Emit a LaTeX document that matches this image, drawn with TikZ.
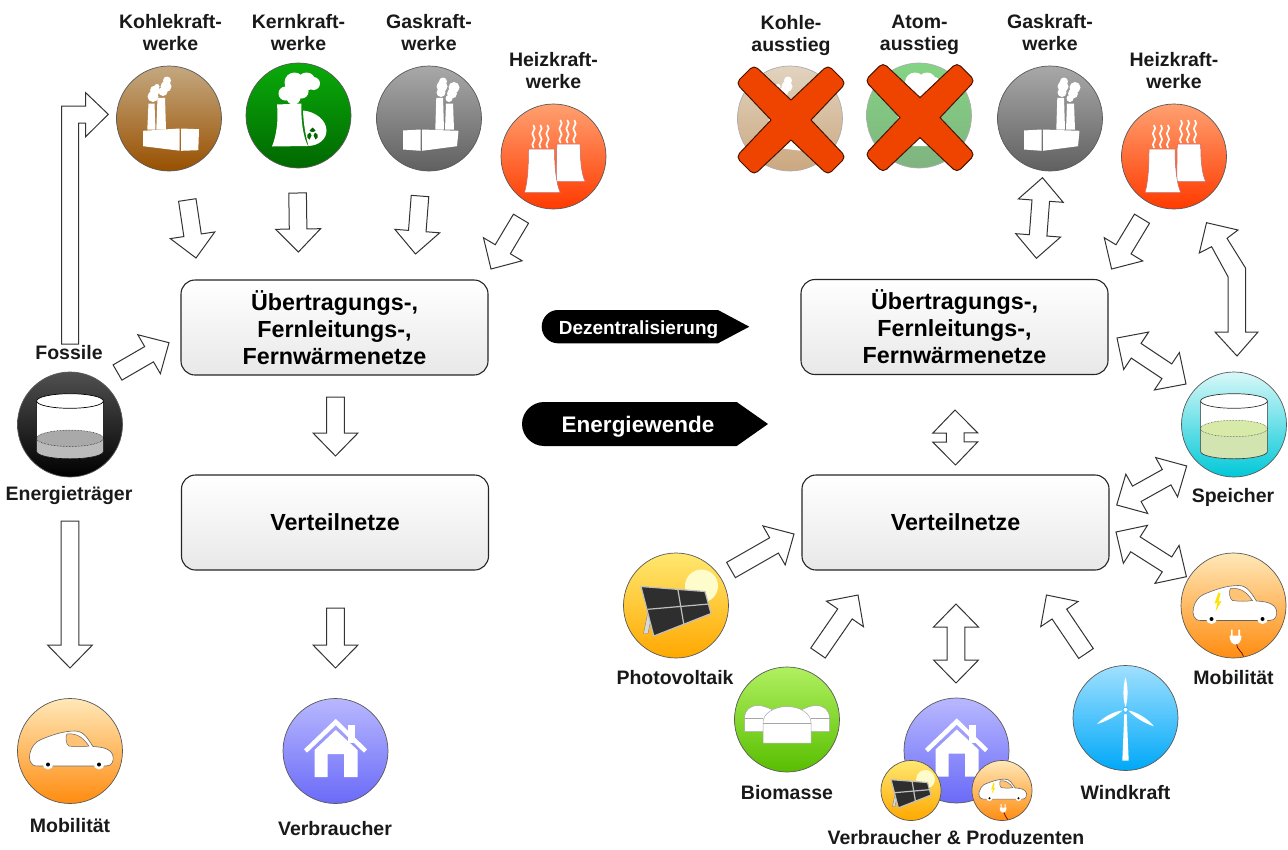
\documentclass[tikz,border=0pt]{standalone}
\usepackage{fontspec}
\setmainfont{Liberation Sans}
\usetikzlibrary{calc}
\newcommand\lblfont{\bfseries\fontsize{19.5}{22}\selectfont}
\newcommand\boxfont{\bfseries\fontsize{23.3}{27}\selectfont}
\definecolor{xred}{HTML}{EE4400}
\definecolor{coalT}{HTML}{C4A880}\definecolor{coalB}{HTML}{985000}
\definecolor{kernT}{HTML}{0AAA0A}\definecolor{kernB}{HTML}{006800}
\definecolor{gasT}{HTML}{A8A8A8}\definecolor{gasB}{HTML}{606060}
\definecolor{heatT}{HTML}{FFA070}\definecolor{heatB}{HTML}{FF3A00}
\definecolor{carT}{HTML}{FFE8B8}\definecolor{carB}{HTML}{FF8C10}
\definecolor{pvT}{HTML}{FFE870}\definecolor{pvB}{HTML}{FFA800}
\definecolor{bioT}{HTML}{B0F060}\definecolor{bioB}{HTML}{58BE00}
\definecolor{houseT}{HTML}{B8B8FF}\definecolor{houseB}{HTML}{6A6AF8}
\definecolor{windT}{HTML}{A0E0FF}\definecolor{windB}{HTML}{00A8F8}
\definecolor{storeT}{HTML}{D8F8F8}\definecolor{storeB}{HTML}{00C8D8}
\definecolor{fossT}{HTML}{505050}\definecolor{fossB}{HTML}{000000}
\definecolor{liq}{HTML}{D2E4B0}\definecolor{liqT}{HTML}{D8EAA8}
\definecolor{oil}{HTML}{BBBBBB}\definecolor{oilT}{HTML}{A9A9A9}
\tikzset{
  lab/.style={font=\lblfont,align=center,inner sep=0pt,text=black!90},
  netbox/.style={draw=black!85,line width=1.1pt,rounded corners=14pt,top color=white,bottom color=black!9,
     minimum width=307pt,minimum height=95pt,inner sep=0pt,font=\boxfont,align=center},
  coin/.style={circle,minimum size=105pt,inner sep=0pt,draw=black!65,line width=.7pt,shading=axis},
  smallcoin/.style={circle,minimum size=60pt,inner sep=0pt,draw=black!65,line width=.7pt,shading=axis},
  blk/.style={draw=black!80,fill=white,line width=1pt,line join=miter},
  cross/.style={fill=xred,draw=black!70!xred,line width=1pt},
  ico/.style={fill=white},
}
\newcommand\oneway[2]{%
  \coordinate (nk) at ($(#2)!23pt!(#1)$);
  \draw[blk] ($(#1)!8.8pt!90:(#2)$) -- ($(nk)!8.8pt!90:(#2)$) -- ($(nk)!22.5pt!90:(#2)$) -- (#2)
     -- ($(nk)!22.5pt!-90:(#2)$) -- ($(nk)!8.8pt!-90:(#2)$) -- ($(#1)!8.8pt!-90:(#2)$) -- cycle;}
\newcommand\twoway[2]{%
  \coordinate (nk) at ($(#2)!23pt!(#1)$);
  \coordinate (nj) at ($(#1)!23pt!(#2)$);
  \draw[blk] (#1) -- ($(nj)!22.5pt!90:(#2)$) -- ($(nj)!8.8pt!90:(#2)$) -- ($(nk)!8.8pt!90:(#2)$) -- ($(nk)!22.5pt!90:(#2)$) -- (#2)
     -- ($(nk)!22.5pt!-90:(#2)$) -- ($(nk)!8.8pt!-90:(#2)$) -- ($(nj)!8.8pt!-90:(#2)$) -- ($(nj)!22.5pt!-90:(#2)$) -- cycle;}
% --- icons, drawn around the local origin, circle radius 52.5, y downwards
\newcommand\icoCoal{%
  \fill[ico] (-21.7,11) -- (-20.5,-15) -- (-14.5,-15) -- (-13.5,11) -- cycle;
  \fill[ico] (-12.7,11) -- (-11.5,-20.7) -- (-4,-20.7) -- (-3,11) -- cycle;
  \fill[ico] (-16,-22) circle (5.5) (-14,-28) circle (5) (-12,-32) circle (2.5);
  \fill[ico] (-6,-27) circle (4.5) (-3,-32) circle (5.5) (-2,-38) circle (4);
  \fill[ico] (-26,12.3) -- (10.5,10) -- (10.5,32.2) -- (-26,27.7) -- cycle;
  \fill[ico] (12,10) -- (30,10.7) -- (29.3,31.7) -- (12,32.3) -- cycle;}
\newcommand\icoGas{%
  \fill[ico] (6.3,11) -- (7.3,-20.7) -- (14,-20.7) -- (15,11) -- cycle;
  \fill[ico] (16,11) -- (17,-15) -- (24,-15) -- (25,11) -- cycle;
  \fill[ico] (12,-26) circle (4.5) (13,-32) circle (5.5) (14,-37) circle (4);
  \fill[ico] (20,-20) circle (3.5) (23,-25) circle (5) (25,-31) circle (5.5);
  \fill[ico] (-26,12) -- (-8.5,11) -- (-8.5,32.3) -- (-26,31) -- cycle;
  \fill[ico] (-7,11) -- (29.5,12.3) -- (28,27.7) -- (-7,32.3) -- cycle;}
\newcommand\icoKern{%
  \fill[ico] (-4,-33) circle (10) (8,-34) circle (9) (15,-32) circle (6.5)
    (-13,-22) circle (7) (-5,-18) circle (7) (3,-24) circle (7);
  \fill[ico] (-21.5,-11) -- (2.8,-12) .. controls (2.5,8) and (5,22) .. (9.5,30.5) -- (-26.5,31) .. controls (-22,20) and (-20,5) .. cycle;
  \fill[ico] (4.5,-5) .. controls (16,-4) and (28,4) .. (28,15) .. controls (28,24) and (20,30) .. (10,30.5) .. controls (7,20) and (5,8) .. cycle;
  \fill[green!40!black] (14,12) -- (11,15) .. controls (12,17) and (16,17) .. (17,15) -- cycle
     (11.5,17) -- (9,19) .. controls (8,21) and (9,23) .. (11,24) -- (13,20) -- cycle
     (16.5,17) -- (19,19) .. controls (20,21) and (19,23) .. (17,24) -- (15,20) -- cycle;}
\newcommand\steam[2]{\draw[white,line width=1.7pt,line cap=round] (#1,#2) .. controls (#1+4,#2+4) and (#1-4,#2+7) .. (#1,#2+11) .. controls (#1+4,#2+15) and (#1-4,#2+18) .. (#1,#2+22);}
\newcommand\icoHeat{%
  \steam{-20}{-31}\steam{-13}{-31}\steam{-6}{-31}
  \steam{7}{-36}\steam{14}{-36}\steam{21}{-36}
  \filldraw[fill=white,draw=red!60!black!60,line width=.5pt] (3.3,-12.3) -- (26.7,-12.3) .. controls (26.7,5) and (28,18) .. (31.7,25) -- (2.7,25) -- cycle;
  \filldraw[fill=white,draw=red!60!black!60,line width=.5pt] (-25,-7.3) -- (1,-7.3) .. controls (1,12) and (3,28) .. (6.7,36) -- (-29,36) .. controls (-26,26) and (-25,12) .. cycle;}
\newcommand\carbody[1]{%
  \filldraw[fill=white,draw=#1,line width=.6pt] (-33,15) .. controls (-40,15) and (-41.5,8) .. (-40,2) .. controls (-38.5,-4) and (-35,-9) .. (-29,-11.5)
     .. controls (-18,-16) and (-7,-20) .. (5,-20) .. controls (14,-20) and (18,-12) .. (23,-4.5) .. controls (31,-4) and (41,-3) .. (43,5)
     .. controls (44,10) and (42,15) .. (36,15) -- cycle;
  \fill[white] (-22,13) circle (5.5) (29,13) circle (5.5);
  \fill[black] (-22,13.5) circle (2) (29,13.5) circle (2);
  \filldraw[fill=carT!60!carB,draw=#1,line width=.5pt] (-3,-17) .. controls (-5,-15) and (-4,-6) .. (-1,-5) .. controls (6,-4) and (13,-4) .. (19,-5)
     .. controls (13,-13) and (8,-18) .. (-3,-17) -- cycle;}
\newcommand\icoCarE{%
  \carbody{black!60}
  \fill[yellow!85!orange] (-15,-13) -- (-19,-2) -- (-16,-3) -- (-18,6) -- (-12,-4.5) -- (-15,-4) -- (-13,-12) -- cycle;
  \draw[black!60!red,line width=.7pt] (3,38) .. controls (3,44) and (9,46) .. (10,51);
  \fill[ico] (-2.5,24) rectangle (-0.8,31) (4.8,24) rectangle (6.5,31);
  \fill[ico] (-4,30) -- (8,30) .. controls (8,36) and (5,39) .. (2,39) .. controls (-1,39) and (-4,36) .. cycle;}
\newcommand\icoPV{%
  \fill[white!80!yellow] (25.5,-19.5) circle (16.5);
  \filldraw[fill=white!85!black,draw=black!50,line width=.4pt] (-28,6) -- (-32.5,28) -- (-28,28) -- (-24,8) -- cycle;
  \filldraw[fill=black!82,draw=white!75!black,line width=1.2pt] (-35,-19) -- (29,-14) -- (35,8) -- (-22.2,30.5) -- cycle;
  \draw[white!75!black,line width=1.2pt] (1.8,-16.5) -- (7.8,19) (-28.5,3.8) -- (33,-1.5);}
\newcommand\icoBio{%
  \filldraw[fill=white,draw=black!35,line width=.5pt] (-42.5,12) -- (-42.5,-3) .. controls (-42,-9) and (-37,-14) .. (-29,-14) .. controls (-24,-14) and (-20,-12) .. (-15,-10) -- (-15,12) -- cycle;
  \filldraw[fill=white,draw=black!35,line width=.5pt] (42.5,12) -- (42.5,-3) .. controls (42,-9) and (37,-14) .. (29,-14) .. controls (24,-14) and (20,-12) .. (15,-10) -- (15,12) -- cycle;
  \filldraw[fill=white,draw=black!35,line width=.5pt] (-24,23.5) -- (-24,3) .. controls (-24,-6) and (-13,-13) .. (0,-13) .. controls (13,-13) and (24,-6) .. (24,3) -- (24,23.5) -- cycle;
  \draw[black!35,line width=.6pt] (-42.5,-1.5) -- (-24,-1.5) (24,-1.5) -- (42.5,-1.5) (-24,3.5) -- (24,3.5);}
\newcommand\icoHouse{%
  \fill[ico] (12,-26) rectangle (19,-8);
  \draw[white,line width=4.5pt,line join=miter] (-30,0) -- (0.3,-29) -- (30,0);
  \fill[ico] (-21,-1) -- (0.3,-21) -- (22,-1) -- (22,26) -- (8.5,26) -- (8.5,3) -- (-8,3) -- (-8,26) -- (-21,26) -- cycle;}
\newcommand\icoWind{%
  \fill[ico] (-1.2,-4) -- (1.2,-4) -- (3.2,42.7) -- (-3.2,42.7) -- cycle;
  \fill[ico] (0,-40.7) .. controls (3,-30) and (2.5,-18) .. (0,-11) .. controls (-2.5,-18) and (-3,-30) .. cycle;
  \fill[ico] (-28.3,6) .. controls (-24,0.5) and (-12,-7) .. (-3,-7.5) .. controls (-7,-3.5) and (-18,3) .. cycle;
  \fill[ico] (28.3,8.3) .. controls (24,2) and (12,-6) .. (3,-7.5) .. controls (7,-2.5) and (18,5) .. cycle;
  \filldraw[fill=white,draw=windB,line width=.4pt] (0,-8.3) circle (2.5);}
\newcommand\drumbottom{(33.4,27) .. controls (33.4,31) and (18.5,34.3) .. (0,34.3) .. controls (-18.5,34.3) and (-33.4,31) .. (-33.4,27)}
\newcommand\icoDrum[4]{% liquid side, liquid top, surface y, edge
  \fill[white] (-33.4,-23.5) -- (33.4,-23.5) -- \drumbottom -- cycle;
  \fill[#1] (-33.4,#3) -- (33.4,#3) -- \drumbottom -- cycle;
  \filldraw[fill=#2,draw=#4,densely dotted,line width=.5pt] (0,#3) ellipse (33.4 and 8.2);
  \filldraw[fill=white,draw=#4,line width=.7pt] (0,-23.5) ellipse (33.4 and 7.3);
  \draw[#4,line width=.6pt] (-33.4,-23.5) -- (-33.4,27) (33.4,-23.5) -- \drumbottom;}
\newcommand\crossmark{%
  \filldraw[cross] (0,-20) [rounded corners=5pt] -- (37,-55) -- (55,-37) [sharp corners] -- (20,0)
    [rounded corners=5pt] -- (55,37) -- (37,55) [sharp corners] -- (0,20)
    [rounded corners=5pt] -- (-37,55) -- (-55,37) [sharp corners] -- (-20,0)
    [rounded corners=5pt] -- (-55,-37) -- (-37,-55) [sharp corners] -- cycle;}
\begin{document}
\begin{tikzpicture}[x=1pt,y=-1pt]
\useasboundingbox (0,0) rectangle (1288,849);
% ---------- coins with their pictures
\node[coin,top color=coalT,bottom color=coalB] (coalL) at (169,118.5) {};
\begin{scope}[shift={(coalL.center)}]\icoCoal\end{scope}
\node[coin,top color=kernT,bottom color=kernB] (kernL) at (298.5,115.5) {};
\begin{scope}[shift={(kernL.center)}]\icoKern\end{scope}
\node[coin,top color=gasT,bottom color=gasB] (gasL) at (429,118.5) {};
\begin{scope}[shift={(gasL.center)}]\icoGas\end{scope}
\node[coin,top color=heatT,bottom color=heatB] (heatL) at (553.5,156.5) {};
\begin{scope}[shift={(heatL.center)}]\icoHeat\end{scope}
\node[coin,top color=fossT,bottom color=fossB] (fossil) at (70,424.5) {};
\begin{scope}[shift={(fossil.center)}]\icoDrum{oil}{oilT}{13.8}{black}\end{scope}
\node[coin,top color=carT,bottom color=carB] (carL) at (70,751) {};
\begin{scope}[shift={(carL.center)}]\carbody{black!60}\end{scope}
\node[coin,top color=houseT,bottom color=houseB] (houseL) at (335.5,751) {};
\begin{scope}[shift={(houseL.center)}]\icoHouse\end{scope}
% right column
\begin{scope}[transparency group,opacity=.5]
\node[coin,top color=coalT,bottom color=coalB] (coalR) at (790,118.5) {};
\begin{scope}[shift={(coalR.center)}]\icoCoal\end{scope}
\end{scope}
\begin{scope}[transparency group,opacity=.5]
\node[coin,top color=kernT,bottom color=kernB] (kernR) at (919,115.5) {};
\begin{scope}[shift={(kernR.center)}]\icoKern\end{scope}
\end{scope}
\begin{scope}[shift={(791,120)}]\crossmark\end{scope}
\begin{scope}[shift={(920,117.6)}]\crossmark\end{scope}
\node[coin,top color=gasT,bottom color=gasB] (gasR) at (1050,118.5) {};
\begin{scope}[shift={(gasR.center)}]\icoGas\end{scope}
\node[coin,top color=heatT,bottom color=heatB] (heatR) at (1174,156.5) {};
\begin{scope}[shift={(heatR.center)}]\icoHeat\end{scope}
\node[coin,top color=storeT,bottom color=storeB] (store) at (1234,424.5) {};
\begin{scope}[shift={(store.center)}]\icoDrum{liq}{liqT}{4}{black!80}\end{scope}
\node[coin,top color=carT,bottom color=carB] (carR) at (1233.5,605.5) {};
\begin{scope}[shift={(carR.center)}]\icoCarE\end{scope}
\node[coin,top color=pvT,bottom color=pvB] (pv) at (676,605.5) {};
\begin{scope}[shift={(pv.center)}]\icoPV\end{scope}
\node[coin,top color=bioT,bottom color=bioB] (bio) at (787,719.5) {};
\begin{scope}[shift={(bio.center)}]\icoBio\end{scope}
\node[coin,top color=windT,bottom color=windB] (wind) at (1125.5,718) {};
\begin{scope}[shift={(wind.center)}]\icoWind\end{scope}
\node[coin,top color=houseT,bottom color=houseB] (houseR) at (956.5,750.5) {};
\begin{scope}[shift={(houseR.center)}]\icoHouse\end{scope}
\node[smallcoin,top color=pvT,bottom color=pvB] (pvS) at (911,790.5) {};
\begin{scope}[shift={(pvS.center)},scale=.57]\icoPV\end{scope}
\node[smallcoin,top color=carT,bottom color=carB] (carS) at (1002,790.5) {};
\begin{scope}[shift={(carS.center)},scale=.57]\icoCarE\end{scope}
% ---------- network boxes
\node[netbox] (netTL) at (334.5,327.5) {\raisebox{2.5pt}{\parbox{300pt}{\centering Übertragungs-,\\Fernleitungs-,\\Fernwärmenetze}}};
\node[netbox] (netBL) at (335,522.5) {\raisebox{1pt}{Verteilnetze}};
\node[netbox] (netTR) at (954.5,327) {\raisebox{2.5pt}{\parbox{300pt}{\centering Übertragungs-,\\Fernleitungs-,\\Fernwärmenetze}}};
\node[netbox] (netBR) at (955.5,522.5) {\raisebox{1pt}{Verteilnetze}};
% ---------- labels
\node[lab] (t1) at (170.5,33) {Kohlekraft-\\werke};
\node[lab] (t2) at (298.5,33) {Kernkraft-\\werke};
\node[lab] (t3) at (429,33) {Gaskraft-\\werke};
\node[lab] (t4) at (553.5,70.5) {Heizkraft-\\werke};
\node[lab] (t5) at (791,35) {Kohle-\\ausstieg};
\node[lab] (t6) at (919.5,35) {Atom-\\ausstieg};
\node[lab] (t7) at (1050,33) {Gaskraft-\\werke};
\node[lab] (t8) at (1174,70.5) {Heizkraft-\\werke};
\node[lab] (t9) at (69,353) {Fossile};
\node[lab] (t10) at (69,495) {Energieträger};
\node[lab] (t11) at (70,826) {Mobilität};
\node[lab] (t12) at (335,829) {Verbraucher};
\node[lab] (t13) at (1233,497) {Speicher};
\node[lab] (t14) at (675,678) {Photovoltaik};
\node[lab] (t15) at (1233.5,678) {Mobilität};
\node[lab] (t16) at (787,793) {Biomasse};
\node[lab] (t17) at (1125.5,793) {Windkraft};
\node[lab] (t18) at (956,838) {Verbraucher \& Produzenten};
% ---------- shift arrows between the two halves
\fill[black] (718,310) -- (749.3,326.7) -- (718,343.3) -- (558,343.3) .. controls (549,343.3) and (541.7,335.9) .. (541.7,326.7)
   .. controls (541.7,317.5) and (549,310) .. (558,310) -- cycle;
\node[font=\bfseries\fontsize{19}{22}\selectfont,text=white,inner sep=0pt] (dez) at (638.5,330) {Dezentralisierung};
\fill[black] (736.7,402) -- (768,424) -- (736.7,446) -- (544,446) .. controls (532,446) and (522,436) .. (522,424)
   .. controls (522,412) and (532,402) .. (544,402) -- cycle;
\node[font=\bfseries\fontsize{22.5}{26}\selectfont,text=white,inner sep=0pt] (ew) at (638,427) {Energiewende};
% ---------- block arrows
\coordinate (a1) at (187.3,200); \coordinate (a1e) at (196,258);
\coordinate (a2) at (297.6,193); \coordinate (a2e) at (298.4,252);
\coordinate (a3) at (420,196);   \coordinate (a3e) at (415.5,254);
\coordinate (a4) at (521,218.7); \coordinate (a4e) at (491,269);
\coordinate (a5) at (117.5,372.5); \coordinate (a5e) at (169,342.7);
\coordinate (a6) at (335.5,397); \coordinate (a6e) at (335.5,456);
\coordinate (a7) at (335.5,608); \coordinate (a7e) at (335.5,668);
\coordinate (a8) at (70,521);    \coordinate (a8e) at (70,668);
\foreach \s in {a1,a2,a3,a4,a5,a6,a7,a8} {\oneway{\s}{\s e}}
\draw[blk] (61.5,344) -- (61.5,106) -- (85.7,106) -- (85.7,92.7) -- (108.3,114.3) -- (85.7,136.7) -- (85.7,123) -- (78.6,123) -- (78.6,344) -- cycle;
\coordinate (b1) at (1142,218.7); \coordinate (b1e) at (1111.6,269);
\coordinate (b2) at (731,570);    \coordinate (b2e) at (794,534);
\coordinate (b3) at (818,653);    \coordinate (b3e) at (858,595);
\coordinate (b4) at (1086,653.5); \coordinate (b4e) at (1046.5,595);
\foreach \s in {b1,b2,b3,b4} {\oneway{\s}{\s e}}
\coordinate (c1) at (1042.5,177.7); \coordinate (c1e) at (1036.4,258.3);
\coordinate (c2) at (955,410);      \coordinate (c2e) at (955.5,465);
\coordinate (c3) at (956,604);      \coordinate (c3e) at (956,683);
\coordinate (c4) at (1117,338);     \coordinate (c4e) at (1186,384);
\coordinate (c5) at (1116.7,505);   \coordinate (c5e) at (1186.7,466);
\coordinate (c6) at (1116,532);     \coordinate (c6e) at (1186.4,576.7);
\foreach \s in {c1,c2,c3,c4,c5,c6} {\twoway{\s}{\s e}}
\draw[blk] (1206.5,222.7) -- (1238,230) -- (1227,238.3) -- (1245.5,268) -- (1245.5,332) -- (1258,332) -- (1237,356)
   -- (1215,332) -- (1228,332) -- (1228,276.7) -- (1211.6,246.7) -- (1199.3,253) -- cycle;
\end{tikzpicture}
\end{document}
